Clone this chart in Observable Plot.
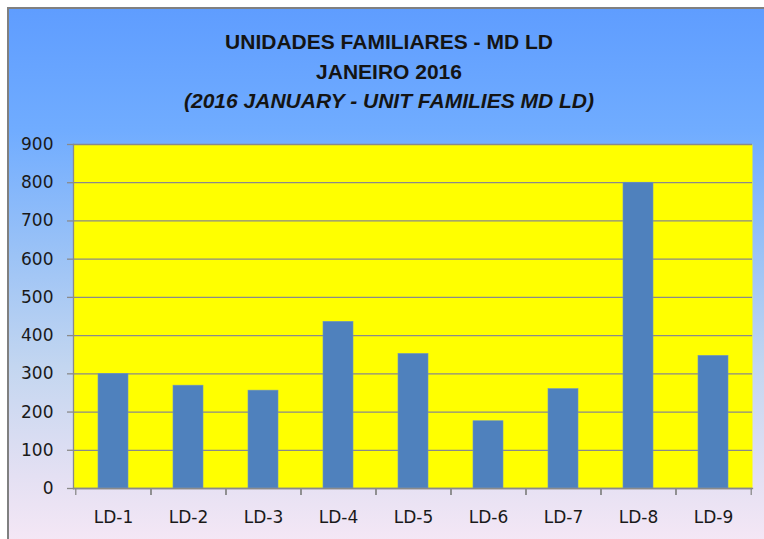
<!DOCTYPE html>
<html><head><meta charset="utf-8">
<script src="https://cdn.jsdelivr.net/npm/d3@7"></script>
<script src="https://cdn.jsdelivr.net/npm/@observablehq/plot@0.6"></script>
<style>
html,body{margin:0;padding:0;background:#fff;width:764px;height:539px;overflow:hidden;position:relative}
#bg{position:absolute;left:7px;top:7px;width:780px;height:550px;border-left:2px solid #808080;border-top:2px solid #808080;
 background:linear-gradient(to bottom,#5f9dff 0%,#70acff 22%,#9cc3f6 45%,#c3d6f0 65%,#e4e0f3 85%,#f9e9f6 100%)}
#title{position:absolute;left:0;top:27px;width:778px;text-align:center;font:bold 21px "Liberation Sans",Arial,sans-serif;line-height:29.5px;color:#141414}
#title .it{font-style:italic}
#chart{position:absolute;left:0;top:120px}
</style></head>
<body>
<div id="bg"></div>
<div id="title"><div>UNIDADES FAMILIARES - MD LD</div><div>JANEIRO 2016</div><div class="it">(2016 JANUARY - UNIT FAMILIES MD LD)</div></div>
<div id="chart"></div>
<script>
const categories = ["LD-1","LD-2","LD-3","LD-4","LD-5","LD-6","LD-7","LD-8","LD-9"];
const values = [300,269,256,436,352,176,260,800,347];
const yTicks = [0,100,200,300,400,500,600,700,800,900];

const data = categories.map((c,i)=>({cat:c, value:values[i]}));
const W = 764, H = 419, mL = 73, mR = 12, mT = 24, mB = 51;
const step = (W - mL - mR) / categories.length;
const gray = "#8a8a8a";

const chart = Plot.plot({
  width: W, height: H, marginTop: mT, marginBottom: mB, marginLeft: mL, marginRight: mR,
  style: {background: "transparent", fontFamily: "DejaVu Sans, sans-serif", fontSize: "17px", color: "#1a1a1a"},
  x: {domain: categories, paddingInner: 0.6, paddingOuter: 0.3, align: 0.5, axis: null, label: null},
  y: {domain: [0, 900], axis: null, label: null},
  marks: [
    Plot.frame({fill: "#ffff00"}),
    Plot.gridY(yTicks, {stroke: gray, strokeOpacity: 1, strokeWidth: 1.3}),
    Plot.barY(data, {x: "cat", y: "value", fill: "#4f81bd", stroke: "#6f95c4", strokeWidth: 0.6}),
    Plot.frame({anchor: "left", stroke: gray, strokeWidth: 1.3}),
    Plot.frame({anchor: "bottom", stroke: gray, strokeWidth: 1.3}),
    Plot.axisY(yTicks, {tickSize: 6, tickPadding: 14, stroke: gray, strokeWidth: 1.3, fontSize: 17, label: null, tickFormat: d => String(d)}),
    Plot.axisX(categories, {tickSize: 7, dx: -step/2, stroke: gray, strokeWidth: 1.3, label: null, tickFormat: () => ""}),
    Plot.axisX(categories, {tickSize: 7, dx: step/2, stroke: gray, strokeWidth: 1.3, label: null, tickFormat: () => ""}),
    Plot.axisX(categories, {tickSize: 0, tickPadding: 22, fontSize: 17, label: null})
  ]
});
document.getElementById("chart").appendChild(chart);
</script>
</body></html>
